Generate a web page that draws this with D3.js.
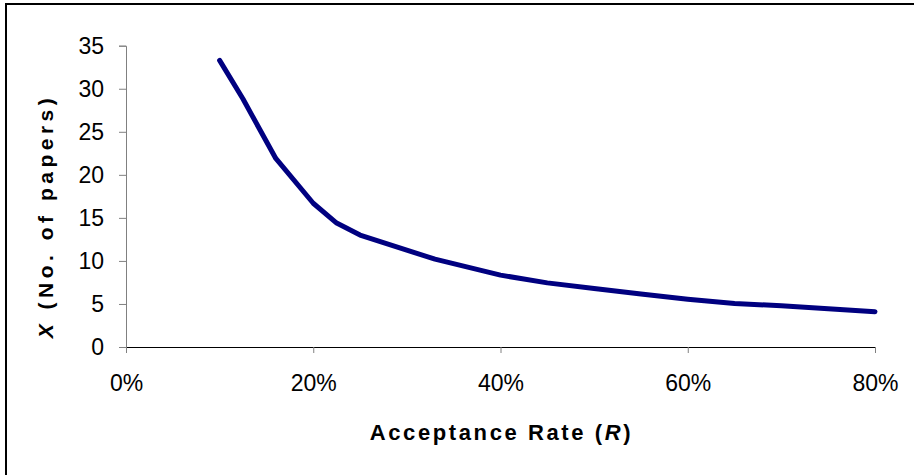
<!DOCTYPE html>
<html lang="en">
<head>
    <meta charset="UTF-8">
    <script src="https://cdn.jsdelivr.net/npm/d3@7"></script>
    <title>Acceptance rate</title>
    <style>
    body { margin: 0; background: #fff; }
    svg text {
        fill: #000;
        font-family: "Liberation Sans", Arial, sans-serif;
    }
    </style>
</head>
<body>
<script>
    // acceptance rate (%) and number of papers
    let rates  = [10, 12.5, 16, 20, 22.5, 25, 33, 40, 45, 50, 55, 60, 65, 70, 75, 80];
    let papers = [33.3, 28.8, 21.9, 16.7, 14.4, 13.0, 10.2, 8.35, 7.45, 6.8, 6.15, 5.55, 5.05, 4.8, 4.45, 4.1];
    let xTicks = [0, 20, 40, 60, 80];
    let yTicks = [0, 5, 10, 15, 20, 25, 30, 35];

    let width = 914, height = 475;
    let plotLeft = 126, plotRight = 875, plotTop = 45.7, plotBottom = 347;

    let svg = d3.select("body").append("svg")
        .attr("width", width)
        .attr("height", height);

    // outer chart frame, only its top and left show in the window
    svg.append("rect")
        .attr("x", 6).attr("y", 4)
        .attr("width", width + 20).attr("height", height + 20)
        .attr("fill", "none")
        .attr("stroke", "#000")
        .attr("stroke-width", 2);

    let x = d3.scaleLinear().domain([0, 80]).range([plotLeft, plotRight]);
    let y = d3.scaleLinear().domain([0, 35]).range([plotBottom, plotTop]);

    // y axis
    let yAxis = svg.append("g")
        .attr("transform", "translate(" + plotLeft + ",0)")
        .call(d3.axisLeft(y).tickValues(yTicks).tickSize(7).tickPadding(15));
    yAxis.selectAll("line, path").attr("stroke", "#808080");
    yAxis.selectAll("text").style("font-size", "23px").attr("dy", "0.33em");

    // x axis
    let xAxis = svg.append("g")
        .attr("transform", "translate(0," + plotBottom + ")")
        .call(d3.axisBottom(x).tickValues(xTicks).tickSize(6).tickPadding(22)
            .tickFormat(d => d + "%"));
    xAxis.select("path").attr("stroke", "#000");
    xAxis.selectAll("line").attr("stroke", "#808080");
    xAxis.selectAll("text").style("font-size", "23px");

    let line = d3.line()
        .x((d, i) => x(rates[i]))
        .y(d => y(d));

    svg.append("path")
        .datum(papers)
        .attr("d", line)
        .attr("fill", "none")
        .attr("stroke", "#000080")
        .attr("stroke-width", 5)
        .attr("stroke-linejoin", "round")
        .attr("stroke-linecap", "round");

    // axis titles
    let xt = svg.append("text")
        .attr("x", (plotLeft + plotRight) / 2 + 1)
        .attr("y", 440)
        .attr("text-anchor", "middle")
        .style("font-size", "22px")
        .style("font-weight", "bold")
        .style("letter-spacing", "2.6px");
    xt.append("tspan").text("Acceptance Rate (");
    xt.append("tspan").style("font-style", "italic").text("R");
    xt.append("tspan").text(")");

    let yt = svg.append("text")
        .attr("transform", "translate(53,216) rotate(-90)")
        .attr("text-anchor", "middle")
        .style("font-size", "21px")
        .style("font-weight", "bold")
        .style("letter-spacing", "4.5px");
    yt.append("tspan").style("font-style", "italic").text("X");
    yt.append("tspan").text(" (No. of papers)");
</script>
</body>
</html>
